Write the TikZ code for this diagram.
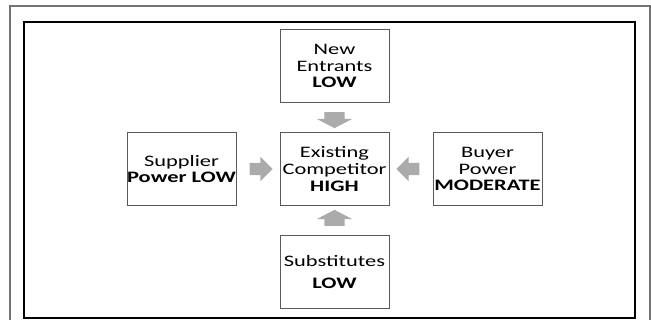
\documentclass[tikz,border=0pt]{standalone}
\usepackage{fontspec}
\setmainfont{Carlito}[FakeStretch=1.4]
\usetikzlibrary{
    positioning,
    calc,
    shapes.arrows
}

\tikzset{
    force/.style={draw=black!65, line width=1pt, minimum width=109pt, minimum height=73.5pt,
        inner sep=0pt, align=center, font=\fontsize{16}{16.7}\selectfont, text=black},
    varrow/.style={single arrow, fill=black!33, draw=none, inner xsep=0pt, inner ysep=10pt,
        minimum height=16pt, single arrow head extend=7.5pt, single arrow tip angle=125},
    harrow/.style={single arrow, fill=black!33, draw=none, inner xsep=0pt, inner ysep=6pt,
        minimum height=23pt, single arrow head extend=6pt, single arrow tip angle=90}
}

\begin{document}
\begin{tikzpicture}
    \useasboundingbox (0pt, 0pt) rectangle (651pt, 320pt);
    % frames
    \draw[black!55, line width=1.2pt] (10pt, -8pt) rectangle (650pt, 314pt);
    \draw[black, line width=2.2pt] (24pt, 2pt) rectangle (635pt, 298pt);

    % the five forces
    \node[force] (comp) at (334.5pt, 151pt) {Existing\\Competitor\\\textbf{HIGH}};
    \node[force, above=28.5pt of comp] (new) {New\\Entrants\\\textbf{LOW}};
    \node[force, below=28.5pt of comp] (subst) {Substitutes\\[5pt]\textbf{LOW}};
    \node[force, left=43pt of comp] (supp) {Supplier\\\textbf{Power LOW}};
    \node[force, right=43pt of comp] (buyer) {Buyer\\Power\\\textbf{MODERATE}};

    % block arrows
    \node[varrow, rotate=-90] (a1) at ($(new.south)!0.5!(comp.north)$) {};
    \node[varrow, rotate=90] (a2) at ($(subst.north)!0.5!(comp.south)$) {};
    \node[harrow] (a3) at ($(supp.east)!0.5!(comp.west)$) {};
    \node[harrow, rotate=180] (a4) at ($(buyer.west)!0.5!(comp.east)$) {};
\end{tikzpicture}
\end{document}
